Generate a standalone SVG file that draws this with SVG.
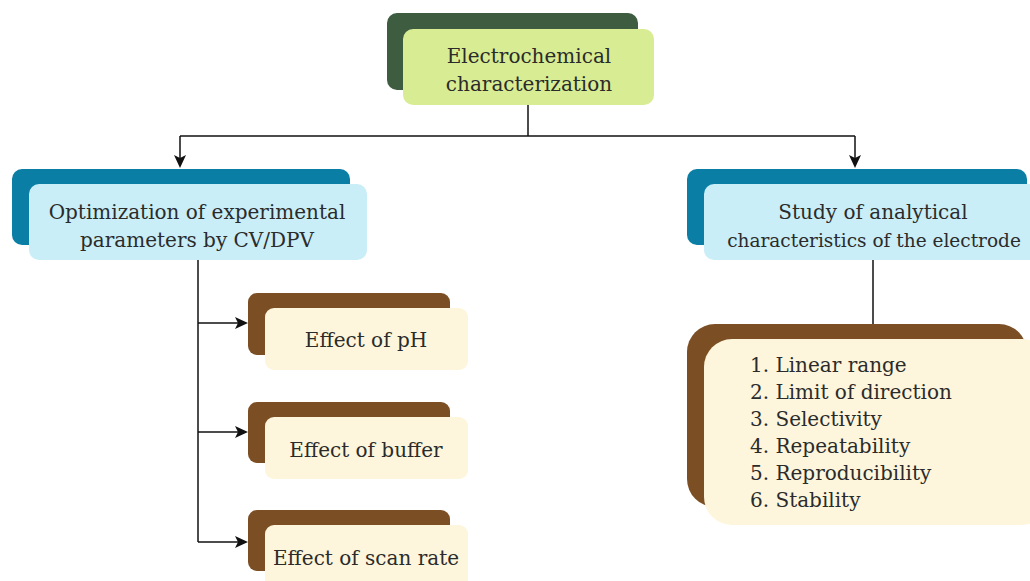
<svg xmlns="http://www.w3.org/2000/svg" width="1030" height="581" viewBox="0 0 1030 581">
<defs>
<style>
text{font-family:'DejaVu Serif',serif;font-size:20px;fill:#2b2b2b}
.c{text-anchor:middle}
.sm{font-size:18.5px}
.ln{stroke:#111;stroke-width:1.5;fill:none}
.ah{fill:#111}
.gb{fill:#3e5c40}.gf{fill:#d8ec94}
.bb{fill:#0a7ea4}.bf{fill:#c9eef7}
.rb{fill:#7c4e24}.rf{fill:#fdf6dc}
</style>
</defs>
<rect width="1030" height="581" fill="#fff"/>
<g id="connectors">
<path class="ln" d="M528,105 V136"/>
<path class="ln" d="M180,136 H855"/>
<path class="ln" d="M180,136 V158"/>
<path class="ln" d="M855,136 V158"/>
<path class="ah" d="M174,155 L180,168 L186,155 L180,158 Z"/>
<path class="ah" d="M849,155 L855,168 L861,155 L855,158 Z"/>
<path class="ln" d="M198,260 V542"/>
<path class="ln" d="M198,323 H238"/>
<path class="ln" d="M198,432 H238"/>
<path class="ln" d="M198,542 H238"/>
<path class="ah" d="M235,317 L248,323 L235,329 L238,323 Z"/>
<path class="ah" d="M235,426 L248,432 L235,438 L238,432 Z"/>
<path class="ah" d="M235,536 L248,542 L235,548 L238,542 Z"/>
<path class="ln" d="M873,260 V324"/>
</g>
<g id="n-top">
<rect class="gb" x="387" y="13" width="251" height="77" rx="10"/>
<rect class="gf" x="403" y="29" width="251" height="76" rx="10"/>
<text class="c" x="529" y="63">Electrochemical</text>
<text class="c" x="529" y="91">characterization</text>
</g>
<g id="n-opt">
<rect class="bb" x="12" y="169" width="338" height="76" rx="10"/>
<rect class="bf" x="29" y="184" width="338" height="76" rx="10"/>
<text class="c" x="197" y="219">Optimization of experimental</text>
<text class="c" x="197" y="247">parameters by CV/DPV</text>
</g>
<g id="n-study">
<rect class="bb" x="687" y="169" width="340" height="76" rx="10"/>
<rect class="bf" x="704" y="184" width="340" height="76" rx="10"/>
<text class="c" x="873" y="219">Study of analytical</text>
<text class="c sm" x="874" y="247">characteristics of the electrode</text>
</g>
<g id="n-ph">
<rect class="rb" x="248" y="293" width="202" height="62" rx="9"/>
<rect class="rf" x="265" y="308" width="203" height="62" rx="9"/>
<text class="c" x="366" y="347">Effect of pH</text>
</g>
<g id="n-buffer">
<rect class="rb" x="248" y="402" width="202" height="61" rx="9"/>
<rect class="rf" x="265" y="417" width="203" height="62" rx="9"/>
<text class="c" x="366" y="457">Effect of buffer</text>
</g>
<g id="n-scan">
<rect class="rb" x="248" y="510" width="202" height="61" rx="9"/>
<rect class="rf" x="265" y="525" width="203" height="66" rx="9"/>
<text class="c" x="366" y="565">Effect of scan rate</text>
</g>
<g id="n-list">
<rect class="rb" x="687" y="324" width="340" height="183" rx="28"/>
<rect class="rf" x="704" y="339" width="346" height="186" rx="28"/>
<text x="750" y="372">1. Linear range</text>
<text x="750" y="399">2. Limit of direction</text>
<text x="750" y="426">3. Selectivity</text>
<text x="750" y="453">4. Repeatability</text>
<text x="750" y="480">5. Reproducibility</text>
<text x="750" y="507">6. Stability</text>
</g>
</svg>
